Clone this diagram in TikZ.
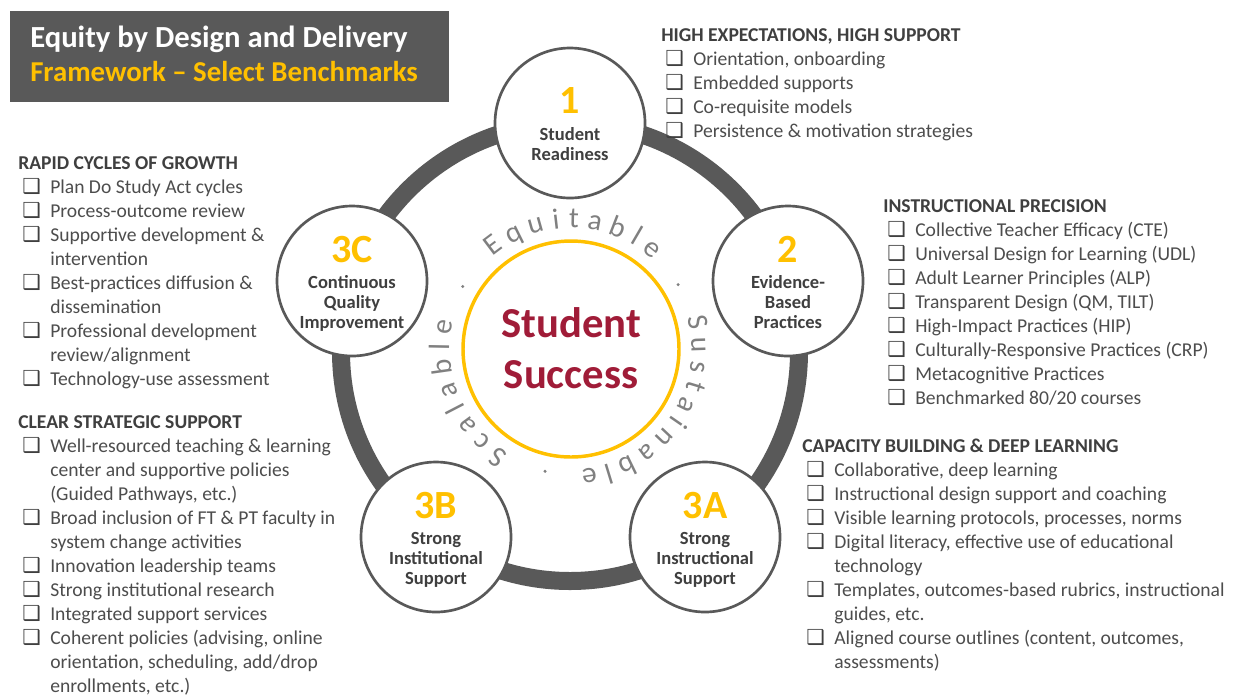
\documentclass[tikz,border=0pt]{standalone}
\usepackage{fontspec}
\setmainfont{Carlito}
\newfontfamily\dejavu{DejaVu Sans}
\usetikzlibrary{calc}
\definecolor{ringgray}{HTML}{595959}
\definecolor{gold}{HTML}{FFC000}
\definecolor{crimson}{RGB}{160,28,56}
\definecolor{txtdark}{HTML}{3F3F3F}
\definecolor{txtitem}{HTML}{4D4D4D}
\definecolor{curvegray}{HTML}{808080}
\newcounter{lrow}
\newcommand\listhead[4]{%
  \gdef\lname{#1}\gdef\lx{#2}\gdef\ly{#3}\setcounter{lrow}{0}%
  \node[hd] (#1) at (#2,#3) {#4};}
\newcommand\itm[1]{\stepcounter{lrow}%
  \node[cbox] (\lname b\arabic{lrow}) at ({\lx+4},{\ly+24*\arabic{lrow}}) {❑};%
  \node[itx] (\lname t\arabic{lrow}) at ({\lx+32},{\ly+24*\arabic{lrow}}) {#1};}
\newcommand\cnt[1]{\stepcounter{lrow}%
  \node[itx] (\lname t\arabic{lrow}) at ({\lx+32},{\ly+24*\arabic{lrow}}) {#1};}
\tikzset{
  stage/.style={circle, draw=ringgray, line width=2pt, fill=white, minimum size=112.5pt, inner sep=0pt},
  num/.style={text=gold, font=\fontsize{30}{30}\selectfont\bfseries, inner sep=0pt, anchor=base},
  stagelbl/.style={text=txtdark, font=\fontsize{13.9}{15}\selectfont\bfseries, inner sep=0pt, anchor=base},
  hd/.style={text=txtdark, font=\fontsize{14.7}{18}\selectfont\bfseries, anchor=base west, inner sep=0pt},
  itx/.style={text=txtitem, font=\fontsize{14.7}{18}\selectfont, anchor=base west, inner sep=0pt},
  cbox/.style={text=txtdark, font=\dejavu\fontsize{15.5}{15.5}\selectfont, anchor=base west, inner sep=0pt},
  arcch/.style={text=curvegray, font=\fontsize{22}{22}\selectfont, anchor=base, inner sep=0pt},
  titletxt/.style={font=\fontsize{23}{23}\selectfont\bfseries, anchor=base west, inner sep=0pt},
}
\begin{document}
\begin{tikzpicture}[x=0.75pt,y=-0.75pt]
\fill[white] (0,0) rectangle (1237,694);
\useasboundingbox (0,0) rectangle (1237,694);

% title
\fill[ringgray] (10,11) rectangle (449,102);
\node[titletxt, text=white] (t1) at (30,47) {Equity by Design and Delivery};
\node[titletxt, text=gold, font=\fontsize{21.6}{23}\selectfont\bfseries] (t2) at (30,81) {Framework – Select Benchmarks};

% ring
\draw[ringgray, line width=13.5pt] (570,352) circle[radius=229];
% centre
\draw[gold, line width=2.6pt] (571,349) circle[radius=108];
\node[text=crimson, font=\fontsize{32}{32}\selectfont\bfseries, anchor=base, inner sep=0pt] (ss1) at (571,337) {Student};
\node[text=crimson, font=\fontsize{32}{32}\selectfont\bfseries, anchor=base, inner sep=0pt] (ss2) at (571,388) {Success};

% stage circles
\node[stage] (c1) at (570,123) {};
\node[stage] (c2) at (788,281) {};
\node[stage] (c3a) at (705,537) {};
\node[stage] (c3b) at (436,537) {};
\node[stage] (c3c) at (352,281) {};

\node[num] (c1n) at ($(c1)+(0,-10)$) {1};
\node[stagelbl] (c1a) at ($(c1)+(0,17)$) {Student};
\node[stagelbl] (c1b) at ($(c1)+(0,37)$) {Readiness};

\node[num] (c2n) at ($(c2)+(0,-19)$) {2};
\node[stagelbl] (c2a) at ($(c2)+(0,7)$) {Evidence-};
\node[stagelbl] (c2b) at ($(c2)+(0,27)$) {Based};
\node[stagelbl] (c2c) at ($(c2)+(0,47)$) {Practices};

\node[num] (c3an) at ($(c3a)+(0,-19)$) {3A};
\node[stagelbl] (c3aa) at ($(c3a)+(0,7)$) {Strong};
\node[stagelbl] (c3ab) at ($(c3a)+(0,27)$) {Instructional};
\node[stagelbl] (c3ac) at ($(c3a)+(0,47)$) {Support};

\node[num] (c3bn) at ($(c3b)+(0,-19)$) {3B};
\node[stagelbl] (c3ba) at ($(c3b)+(0,7)$) {Strong};
\node[stagelbl] (c3bb) at ($(c3b)+(0,27)$) {Institutional};
\node[stagelbl] (c3bc) at ($(c3b)+(0,47)$) {Support};

\node[num] (c3cn) at ($(c3c)+(0,-19)$) {3C};
\node[stagelbl] (c3ca) at ($(c3c)+(0,7)$) {Continuous};
\node[stagelbl] (c3cb) at ($(c3c)+(0,27)$) {Quality};
\node[stagelbl] (c3cc) at ($(c3c)+(0,47)$) {Improvement};

% curved words
\foreach \ch/\ang [count=\i] in {E/127, q/116.45, u/105.68, i/96.63, t/88.69, a/79.3, b/68.8, l/59.75, e/50.86,
  S/12, u/1.78, s/-8.04, t/-16.75, a/-25.97, i/-34.58, n/-43.46, a/-53.79, b/-64.12, l/-73.0, e/-81.72,
  S/-124, c/-133.83, a/-143.78, l/-152.6, a/-161.42, b/-171.97, l/-181.06, e/-189.99}{
  \pgfmathsetmacro\rot{\ang-90}
  \node[arcch, rotate=\rot] (arc\i) at ({571+121*cos(\ang)},{349-121*sin(\ang)}) {\ch};
}
\foreach \ang in {31,-102,150}{
  \fill[curvegray] ({571+125*cos(\ang)},{349-125*sin(\ang)}) circle[radius=1.7];
}

% lists
\listhead{la}{661}{41}{HIGH EXPECTATIONS, HIGH SUPPORT}
\itm{Orientation, onboarding}
\itm{Embedded supports}
\itm{Co-requisite models}
\itm{Persistence \& motivation strategies}

\listhead{lb}{883}{212}{INSTRUCTIONAL PRECISION}
\itm{Collective Teacher Efficacy (CTE)}
\itm{Universal Design for Learning (UDL)}
\itm{Adult Learner Principles (ALP)}
\itm{Transparent Design (QM, TILT)}
\itm{High-Impact Practices (HIP)}
\itm{Culturally-Responsive Practices (CRP)}
\itm{Metacognitive Practices}
\itm{Benchmarked 80/20 courses}

\listhead{lc}{18}{169}{RAPID CYCLES OF GROWTH}
\itm{Plan Do Study Act cycles}
\itm{Process-outcome review}
\itm{Supportive development \&}
\cnt{intervention}
\itm{Best-practices diffusion \&}
\cnt{dissemination}
\itm{Professional development}
\cnt{review/alignment}
\itm{Technology-use assessment}

\listhead{ld}{18}{428}{CLEAR STRATEGIC SUPPORT}
\itm{Well-resourced teaching \& learning}
\cnt{center and supportive policies}
\cnt{(Guided Pathways, etc.)}
\itm{Broad inclusion of FT \& PT faculty in}
\cnt{system change activities}
\itm{Innovation leadership teams}
\itm{Strong institutional research}
\itm{Integrated support services}
\itm{Coherent policies (advising, online}
\cnt{orientation, scheduling, add/drop}
\cnt{enrollments, etc.)}

\listhead{le}{802}{452}{CAPACITY BUILDING \& DEEP LEARNING}
\itm{Collaborative, deep learning}
\itm{Instructional design support and coaching}
\itm{Visible learning protocols, processes, norms}
\itm{Digital literacy, effective use of educational}
\cnt{technology}
\itm{Templates, outcomes-based rubrics, instructional}
\cnt{guides, etc.}
\itm{Aligned course outlines (content, outcomes,}
\cnt{assessments)}
\end{tikzpicture}
\end{document}
